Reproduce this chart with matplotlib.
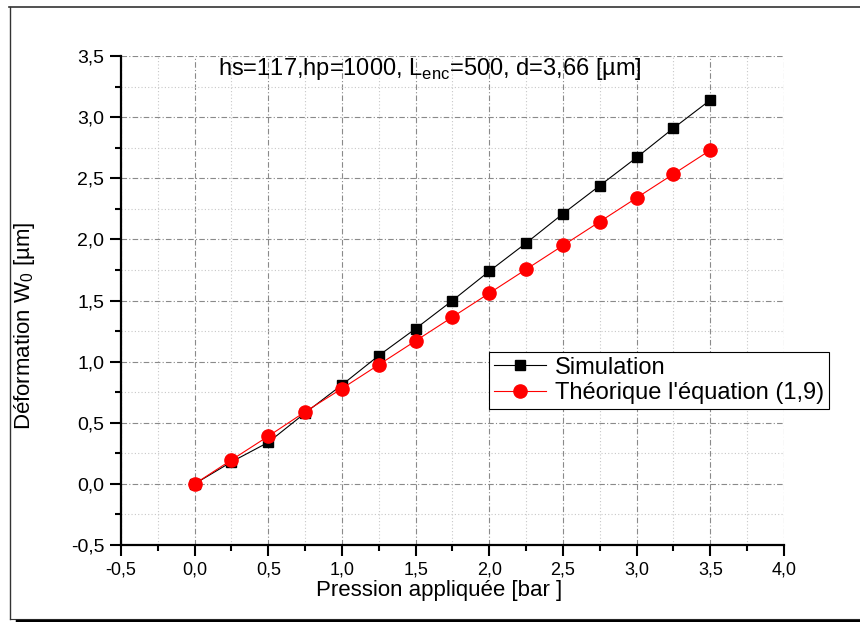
import numpy as np
import matplotlib
matplotlib.use('Agg')
import matplotlib.pyplot as plt
from matplotlib.ticker import MultipleLocator, FuncFormatter
from matplotlib.lines import Line2D

plt.rcParams['font.family'] = ['Liberation Sans', 'DejaVu Sans']

# data
pression = [0.0, 0.25, 0.5, 0.75, 1.0, 1.25, 1.5, 1.75, 2.0, 2.25, 2.5, 2.75, 3.0, 3.25, 3.5]
simulation = [0.0, 0.18, 0.34, 0.58, 0.81, 1.05, 1.27, 1.50, 1.74, 1.97, 2.21, 2.44, 2.67, 2.91, 3.14]
theorique = [0.0, 0.196, 0.39, 0.59, 0.78, 0.975, 1.17, 1.365, 1.56, 1.755, 1.95, 2.145, 2.34, 2.535, 2.73]

def comma(v, pos):
	return ('%.1f' % v).replace('.', ',')

fig = plt.figure(figsize=(8.6, 6.22), dpi=100)
ax = fig.add_axes([121/860., 1-545/622., 663/860., 489/622.])

# origin style frame around the page
fig.add_artist(Line2D([9/860., 1.0], [1-6.5/622., 1-6.5/622.], transform=fig.transFigure, color='#333333', linewidth=1.2))
fig.add_artist(Line2D([9.5/860., 9.5/860.], [1-6.5/622., 1-619/622.], transform=fig.transFigure, color='#333333', linewidth=1.0))
fig.add_artist(Line2D([9.5/860., 1.0], [1-618.5/622., 1-618.5/622.], transform=fig.transFigure, color='#333333', linewidth=0.8))
fig.add_artist(Line2D([17/860., 1.0], [1-620.5/622., 1-620.5/622.], transform=fig.transFigure, color='black', linewidth=2.5))

ax.plot(pression, simulation, color='black', linewidth=0.8, marker='s', markersize=7.5,
	markerfacecolor='black', markeredgecolor='black', label='Simulation', zorder=3)
ax.plot(pression, theorique, color='red', linewidth=0.8, marker='o', markersize=9.5,
	markerfacecolor='red', markeredgecolor='red', label="Théorique l'équation (1,9)", zorder=4)

#axes limits and ticks
ax.axis([-0.5, 4.0, -0.5, 3.5])
ax.xaxis.set_major_locator(MultipleLocator(0.5))
ax.xaxis.set_minor_locator(MultipleLocator(0.25))
ax.yaxis.set_major_locator(MultipleLocator(0.5))
ax.yaxis.set_minor_locator(MultipleLocator(0.25))
ax.xaxis.set_major_formatter(FuncFormatter(comma))
ax.yaxis.set_major_formatter(FuncFormatter(comma))

ax.grid(which='major', color='#8a8a8a', linestyle=(0, (5, 2, 1, 2)), linewidth=0.8)
ax.grid(which='minor', color='#c8c8c8', linestyle=(0, (1, 2)), linewidth=0.8)
ax.set_axisbelow(True)

for s in ['top', 'right']:
	ax.spines[s].set_visible(False)
for s in ['left', 'bottom']:
	ax.spines[s].set_linewidth(1.6)
ax.tick_params(which='major', direction='out', length=8, width=1.5, pad=4)
ax.tick_params(which='minor', direction='out', length=4, width=1.5)
ax.tick_params(axis='y', labelsize=14)
ax.tick_params(axis='x', labelsize=13)

ax.set_xlabel('Pression appliquée [bar ]', fontsize=16)
ax.set_ylabel(r'Déformation W$_\mathregular{0}$ [µm]', fontsize=16)
ax.xaxis.set_label_coords(0.48, -0.072)
ax.yaxis.set_label_coords(-0.127, 0.448)

fig.text(430/860., 1-69/622., r'hs=117,hp=1000, L$_\mathregular{enc}$=500, d=3,66 [µm]',
	fontsize=17, ha='center', va='center')

leg = ax.legend(loc='upper left', bbox_to_anchor=(0.555, 0.395), fontsize=17, frameon=True,
	fancybox=False, framealpha=1, edgecolor='black', handlelength=2.2, borderpad=0.2,
	labelspacing=0.15, handletextpad=0.4, borderaxespad=0)
leg.get_frame().set_linewidth(0.8)

plt.savefig('out.png', dpi=100)
